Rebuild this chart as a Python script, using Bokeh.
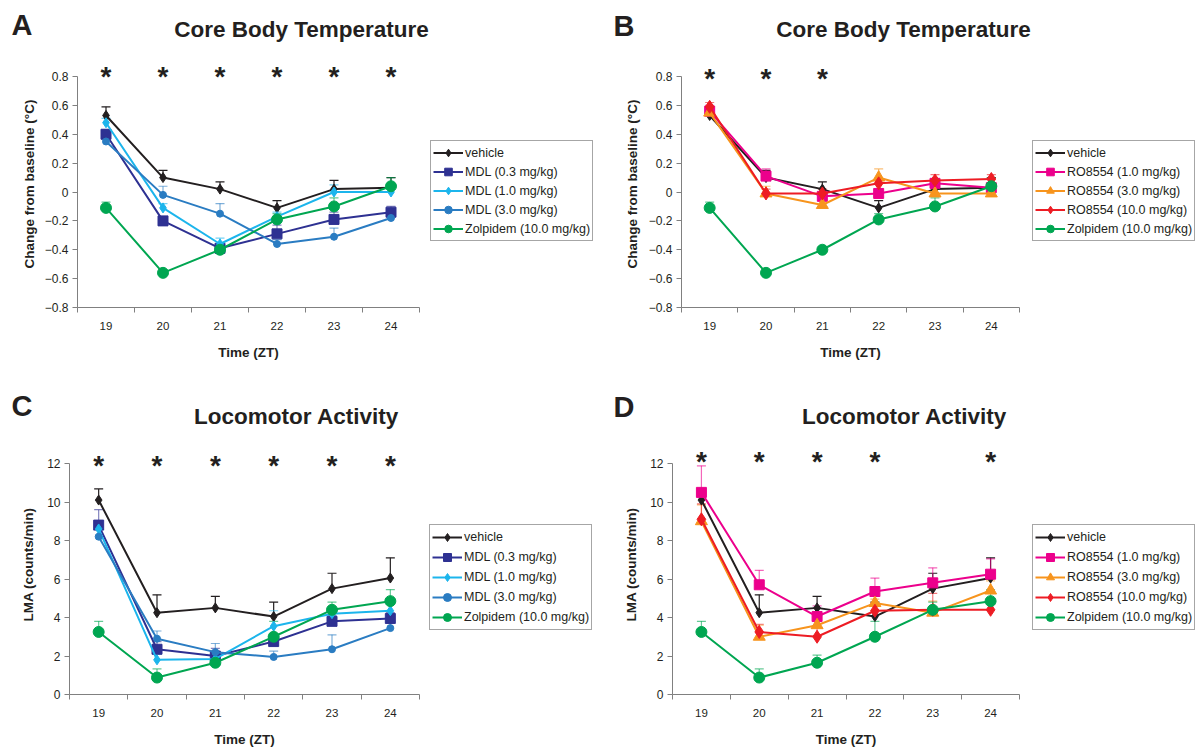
from bokeh.plotting import figure
from bokeh.models import Range1d, FixedTicker, Label, Legend, LegendItem, ColumnDataSource, Whisker, TeeHead
from bokeh.layouts import row, column
from bokeh.embed import file_html
from bokeh.resources import INLINE

# ---------------- data ----------------
hours = [19, 20, 21, 22, 23, 24]

# Core body temperature change from baseline (deg C), mean and SEM
temp_vehicle = [0.53, 0.10, 0.02, -0.11, 0.02, 0.03]
temp_vehicle_err = [0.06, 0.05, 0.05, 0.05, 0.06, 0.07]
temp_mdl03 = [0.40, -0.20, -0.39, -0.29, -0.19, -0.14]
temp_mdl03_err = [0.03, 0.03, 0.03, 0.06, 0.05, 0.04]
temp_mdl10 = [0.48, -0.11, -0.36, -0.17, 0.00, 0.00]
temp_mdl10_err = [0.03, 0.03, 0.04, 0.03, 0.05, 0.02]
temp_mdl30 = [0.35, -0.02, -0.15, -0.36, -0.31, -0.18]
temp_mdl30_err = [0.02, 0.06, 0.07, 0.03, 0.06, 0.02]
temp_zolpidem = [-0.11, -0.56, -0.40, -0.19, -0.10, 0.04]
temp_zolpidem_err = [0.04, 0.02, 0.02, 0.04, 0.06, 0.06]
temp_ro10 = [0.56, 0.11, -0.03, -0.01, 0.06, 0.03]
temp_ro10_err = [0.04, 0.05, 0.03, 0.03, 0.03, 0.03]
temp_ro30 = [0.55, -0.01, -0.09, 0.10, -0.01, -0.01]
temp_ro30_err = [0.03, 0.05, 0.03, 0.06, 0.03, 0.03]
temp_ro100 = [0.59, -0.01, -0.01, 0.06, 0.08, 0.09]
temp_ro100_err = [0.03, 0.03, 0.03, 0.03, 0.04, 0.03]

# Locomotor activity (counts/min), mean and SEM
lma_vehicle = [10.1, 4.25, 4.5, 4.05, 5.5, 6.05]
lma_vehicle_err = [0.58, 0.93, 0.6, 0.75, 0.8, 1.05]
lma_mdl03 = [8.8, 2.35, 2.0, 2.75, 3.8, 3.95]
lma_mdl03_err = [0.8, 0.4, 0.4, 0.3, 0.3, 0.3]
lma_mdl10 = [8.6, 1.8, 1.85, 3.55, 4.2, 4.35]
lma_mdl10_err = [0.4, 0.3, 0.3, 0.8, 0.3, 0.35]
lma_mdl30 = [8.2, 2.9, 2.2, 1.95, 2.35, 3.45]
lma_mdl30_err = [0.4, 0.4, 0.45, 0.3, 0.75, 0.3]
lma_zolpidem = [3.25, 0.88, 1.65, 3.0, 4.4, 4.85]
lma_zolpidem_err = [0.55, 0.45, 0.4, 0.8, 0.4, 0.6]
lma_ro10 = [10.5, 5.7, 4.05, 5.35, 5.8, 6.25]
lma_ro10_err = [1.38, 0.75, 0.55, 0.7, 0.78, 0.8]
lma_ro30 = [9.0, 3.0, 3.6, 4.75, 4.25, 5.4]
lma_ro30_err = [0.85, 0.6, 0.5, 0.2, 0.6, 0.5]
lma_ro100 = [9.1, 3.25, 3.0, 4.35, 4.4, 4.4]
lma_ro100_err = [0.8, 0.4, 0.5, 0.4, 0.85, 0.3]

# significance asterisks (1 = shown)
stars_a = [1, 1, 1, 1, 1, 1]
stars_b = [1, 1, 1, 0, 0, 0]
stars_c = [1, 1, 1, 1, 1, 1]
stars_d = [1, 1, 1, 1, 0, 1]

temp_ticks = [-0.8, -0.6, -0.4, -0.2, 0, 0.2, 0.4, 0.6, 0.8]
lma_ticks = [0, 2, 4, 6, 8, 10, 12]

lbl_vehicle = "vehicle"
lbl_mdl = ["MDL (0.3 mg/kg)", "MDL (1.0 mg/kg)", "MDL (3.0 mg/kg)"]
lbl_ro = ["RO8554 (1.0 mg/kg)", "RO8554 (3.0 mg/kg)", "RO8554 (10.0 mg/kg)"]
lbl_zol = "Zolpidem (10.0 mg/kg)"
x_title = "Time (ZT)"

# ---------------- styles ----------------
FONT = "Liberation Sans"
TXT = "#231F20"
AX = "#808080"
C_VEH = "#231F20"
C_M03 = "#2E3192"
C_M10 = "#1CB5EC"
C_M30 = "#2A7CC2"
C_ZOL = "#00A651"
C_R10 = "#EC008C"
C_R30 = "#F7941D"
C_R100 = "#ED1C24"

HEAD_H = 60
BELOW_AXIS = 30  # room under the x axis for the tick labels


def blank_fig(width, height):
    f = figure(width=width, height=height, x_range=Range1d(0, width), y_range=Range1d(height, 0),
               output_backend="svg", toolbar_location=None,
               x_axis_location=None, y_axis_location=None,
               min_border=0, min_border_left=0, min_border_right=0,
               min_border_top=0, min_border_bottom=0, frame_align=False)
    f.outline_line_color = None
    f.xgrid.visible = False
    f.ygrid.visible = False
    return f


def make_header(width, title, title_cx, title_cy, letter, letter_x, letter_cy):
    h = blank_fig(width, HEAD_H)
    h.add_layout(Label(x=title_cx, y=title_cy, text=title, text_font=FONT,
                       text_font_size="22.5px", text_font_style="bold", text_color=TXT,
                       text_align="center", text_baseline="middle"))
    h.add_layout(Label(x=letter_x, y=letter_cy, text=letter, text_font=FONT,
                       text_font_size="29px", text_font_style="bold", text_color=TXT,
                       text_align="left", text_baseline="middle"))
    return h


def make_footer(width, height, cx, cy):
    f = blank_fig(width, height)
    f.add_layout(Label(x=cx, y=cy, text=x_title, text_font=FONT,
                       text_font_size="13.5px", text_font_style="bold", text_color=TXT,
                       text_align="center", text_baseline="middle"))
    return f


def make_main(width, fl, ft, fr, fb, yr, yticks, ylabel, ylab_standoff,
              series, stars, star_cy, leg_left, leg_top, row_h):
    # geometry given in panel pixels (panel origin = top-left of header)
    ft -= HEAD_H
    fb -= HEAD_H
    leg_top -= HEAD_H
    star_cy -= HEAD_H
    height = fb + BELOW_AXIS
    y0, y1 = yr
    kx = 6.0 / (fr - fl)
    ky = (y1 - y0) / (fb - ft)
    x_start, x_end = 18.5, 24.5 + (width - fr) * kx
    y_top = y1 + ft * ky

    def dy(py):
        return y0 + (fb - py) * ky

    p = figure(width=width, height=height, x_range=Range1d(x_start, x_end),
               y_range=Range1d(y0, y_top),
               output_backend="svg", toolbar_location=None,
               min_border=0, min_border_left=fl, min_border_top=0,
               min_border_right=0, min_border_bottom=BELOW_AXIS, frame_align=False)
    p.outline_line_color = None
    p.xgrid.visible = False
    p.ygrid.visible = False
    p.background_fill_color = "white"

    xa = p.xaxis[0]
    xa.bounds = (18.5, 24.5)
    xa.ticker = FixedTicker(ticks=hours, minor_ticks=[h - 0.5 for h in hours] + [hours[-1] + 0.5])
    xa.major_tick_line_color = None
    xa.major_tick_out = 0
    xa.major_tick_in = 0
    xa.minor_tick_line_color = AX
    xa.minor_tick_out = 5
    xa.minor_tick_in = 0
    xa.axis_line_color = AX
    xa.major_label_standoff = 9
    xa.major_label_text_font = FONT
    xa.major_label_text_font_size = "11.5px"
    xa.major_label_text_color = TXT

    ya = p.yaxis[0]
    ya.bounds = (y0, y1)
    ya.ticker = FixedTicker(ticks=yticks, minor_ticks=[])
    ya.major_label_overrides = {0: "0"}
    ya.major_tick_line_color = AX
    ya.major_tick_out = 5
    ya.major_tick_in = 0
    ya.minor_tick_line_color = None
    ya.axis_line_color = AX
    ya.major_label_standoff = 4
    ya.major_label_text_font = FONT
    ya.major_label_text_font_size = "12px"
    ya.major_label_text_color = TXT
    ya.axis_label = ylabel
    ya.axis_label_text_font = FONT
    ya.axis_label_text_font_size = "13.5px"
    ya.axis_label_text_font_style = "bold"
    ya.axis_label_text_color = TXT
    ya.axis_label_standoff = ylab_standoff

    items = []
    for (label, vals, errs, color, marker, size) in series:
        src = ColumnDataSource(dict(x=hours, y=vals, u=[v + e for v, e in zip(vals, errs)]))
        err_alpha = 1.0 if color == C_VEH else 0.6
        w = Whisker(base="x", lower="y", upper="u", source=src, line_color=color,
                    line_alpha=err_alpha, line_width=1.2,
                    upper_head=TeeHead(size=9, line_color=color, line_alpha=err_alpha, line_width=1.2),
                    lower_head=None)
        p.add_layout(w)
        lr = p.line("x", "y", source=src, line_color=color, line_width=2)
        sr = p.scatter("x", "y", source=src, marker=marker, size=size,
                       fill_color=color, line_color=color)
        items.append(LegendItem(label=label, renderers=[lr, sr]))

    leg_h = 5 * row_h + 4
    legend = Legend(items=items, location=(leg_left - fl, fb - (leg_top + leg_h)),
                    border_line_color="#4d4d4d", border_line_width=1,
                    background_fill_color="white", background_fill_alpha=1.0,
                    padding=2, spacing=0, margin=0,
                    glyph_width=30, glyph_height=row_h, label_height=row_h,
                    label_standoff=2, label_text_font=FONT, label_text_font_size="12.5px",
                    label_text_color=TXT)
    p.add_layout(legend)

    for h, s in zip(hours, stars):
        if s:
            p.add_layout(Label(x=h, y=dy(star_cy + 6), text="*", text_font=FONT,
                               text_font_size="28px", text_font_style="bold", text_color=TXT,
                               text_align="center", text_baseline="middle"))
    return p


def make_panel(width, total_h, fl, ft, fr, fb, yr, yticks, ylabel, ylab_standoff, series,
               title, title_cx, title_cy, letter, letter_x, letter_cy,
               stars, star_cy, leg_left, leg_top, row_h, xlab_cy):
    hdr = make_header(width, title, title_cx, title_cy, letter, letter_x, letter_cy)
    main = make_main(width, fl, ft, fr, fb, yr, yticks, ylabel, ylab_standoff,
                     series, stars, star_cy, leg_left, leg_top, row_h)
    foot_top = fb + BELOW_AXIS
    foot = make_footer(width, total_h - foot_top, (fl + fr) / 2.0, xlab_cy - foot_top)
    return column(hdr, main, foot)


series_a = [
    (lbl_vehicle, temp_vehicle, temp_vehicle_err, C_VEH, "diamond", 10),
    (lbl_mdl[0], temp_mdl03, temp_mdl03_err, C_M03, "square", 10),
    (lbl_mdl[1], temp_mdl10, temp_mdl10_err, C_M10, "diamond", 10),
    (lbl_mdl[2], temp_mdl30, temp_mdl30_err, C_M30, "circle", 7),
    (lbl_zol, temp_zolpidem, temp_zolpidem_err, C_ZOL, "circle", 11),
]
series_b = [
    (lbl_vehicle, temp_vehicle, temp_vehicle_err, C_VEH, "diamond", 10),
    (lbl_ro[0], temp_ro10, temp_ro10_err, C_R10, "square", 10),
    (lbl_ro[1], temp_ro30, temp_ro30_err, C_R30, "triangle", 12),
    (lbl_ro[2], temp_ro100, temp_ro100_err, C_R100, "diamond", 13),
    (lbl_zol, temp_zolpidem, temp_zolpidem_err, C_ZOL, "circle", 11),
]
series_c = [
    (lbl_vehicle, lma_vehicle, lma_vehicle_err, C_VEH, "diamond", 10),
    (lbl_mdl[0], lma_mdl03, lma_mdl03_err, C_M03, "square", 10),
    (lbl_mdl[1], lma_mdl10, lma_mdl10_err, C_M10, "diamond", 10),
    (lbl_mdl[2], lma_mdl30, lma_mdl30_err, C_M30, "circle", 7),
    (lbl_zol, lma_zolpidem, lma_zolpidem_err, C_ZOL, "circle", 11),
]
series_d = [
    (lbl_vehicle, lma_vehicle, lma_vehicle_err, C_VEH, "diamond", 10),
    (lbl_ro[0], lma_ro10, lma_ro10_err, C_R10, "square", 10),
    (lbl_ro[1], lma_ro30, lma_ro30_err, C_R30, "triangle", 12),
    (lbl_ro[2], lma_ro100, lma_ro100_err, C_R100, "diamond", 13),
    (lbl_zol, lma_zolpidem, lma_zolpidem_err, C_ZOL, "circle", 11),
]

temp_label = "Change from baseline (\u00b0C)"
lma_label = "LMA (counts/min)"

panelA = make_panel(598, 374, 77, 76, 419, 307, (-0.8, 0.8), temp_ticks, temp_label, 5, series_a,
                    "Core Body Temperature", 301, 29, "A", 11, 24,
                    stars_a, 70, 430, 142, 19, 352)
panelB = make_panel(599, 374, 83, 76, 421, 307, (-0.8, 0.8), temp_ticks, temp_label, 6, series_b,
                    "Core Body Temperature", 305, 29, "B", 15, 25,
                    stars_b, 72, 434, 142, 19, 352)
panelC = make_panel(598, 375, 69, 89, 419, 320, (0, 12), lma_ticks, lma_label, 8, series_c,
                    "Locomotor Activity", 296, 42, "C", 11, 31,
                    stars_c, 85, 429, 152, 20, 365)
panelD = make_panel(599, 375, 74, 89, 421, 320, (0, 12), lma_ticks, lma_label, 8, series_d,
                    "Locomotor Activity", 306, 42, "D", 15, 32,
                    stars_d, 81, 434, 152, 20, 365)

layout = column(row(panelA, panelB), row(panelC, panelD))
open("out.html", "w").write(file_html(layout, INLINE))
